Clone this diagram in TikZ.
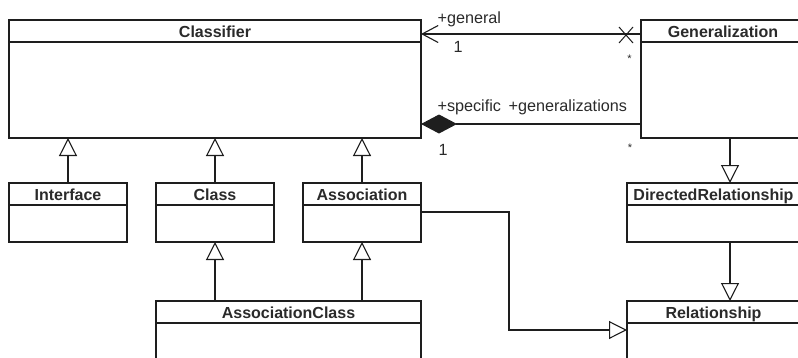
\documentclass[tikz,border=0pt]{standalone}
\usepackage{fontspec}
\setmainfont{Liberation Sans}
\usetikzlibrary{arrows.meta,calc}
\definecolor{ink}{HTML}{1E1E1E}
\definecolor{txt}{HTML}{2A2A2A}

% A UML class box: name, left, top, width, height, title
\newcommand{\umlclass}[6]{%
  \node[classbox, minimum width=#4pt, minimum height=#5pt] (#1) at (#2,#3) {};
  \node[classtitle] (#1-title) at ($(#1.north)+(0,17.5)$) {#6};
  \draw[color=ink] ($(#1.north west)+(0,22)$) -- ($(#1.north east)+(0,22)$);}

\begin{document}
\begin{tikzpicture}[x=1pt,y=-1pt,line width=1.1pt,color=ink,
  classbox/.style={draw=ink, rectangle, anchor=north west, inner sep=0pt, outer sep=0pt},
  classtitle/.style={font=\fontsize{16}{19}\selectfont\bfseries, text=txt, inner sep=0pt, anchor=base},
  role/.style={font=\fontsize{16.2}{19}\selectfont, text=txt, inner sep=0pt, anchor=base west},
  star/.style={font=\fontsize{11}{11}\selectfont, text=txt, inner sep=0pt},
  gen/.style={-{Triangle[open, length=18pt, width=18pt, fill=white]}},
  navig/.style={-{Straight Barb[length=16pt, width=17pt]}},
  compo/.style={-{Diamond[length=36pt, width=19pt]}}]
\useasboundingbox (0,0) rectangle (798,357);
\clip (0,0) rectangle (798,357);

% classes
\umlclass{classifier}{9}{20}{412}{118}{Classifier}
\umlclass{generalization}{641}{20}{164}{118}{Generalization}
\umlclass{interface}{9}{183}{118}{59}{Interface}
\umlclass{class}{156}{183}{118}{59}{Class}
\umlclass{association}{303}{183}{118}{59}{Association}
\umlclass{dirrel}{627}{183}{173}{59}{DirectedRelationship}
\umlclass{assocclass}{156}{301}{265}{80}{AssociationClass}
\umlclass{relationship}{627}{301}{173}{80}{Relationship}

% generalizations
\draw[gen] (interface.north) -- (interface.north |- classifier.south);
\draw[gen] (class.north) -- (class.north |- classifier.south);
\draw[gen] (association.north) -- (association.north |- classifier.south);
\draw[gen] (assocclass.north -| class.south) -- (class.south);
\draw[gen] (assocclass.north -| association.south) -- (association.south);
\coordinate (gx) at ($(generalization.south west)+(89,0)$);
\draw[gen] (gx) -- (gx |- dirrel.north);
\draw[gen] (gx |- dirrel.south) -- (gx |- relationship.north);
\coordinate (aout) at ($(association.north east)+(0,29)$);
\coordinate (rin) at ($(relationship.north west)+(0,29)$);
\draw[gen] (aout) -- ++(88,0) |- (rin);

% association: general
\coordinate (gend) at ($(generalization.north west)+(0,14)$);
\draw[navig] (gend) -- (gend -| classifier.east);
\coordinate (xm) at ($(gend)+(-15,1)$);
\draw[line width=1pt] (xm) +(-7,-8) -- +(7,8) (xm) +(-7,8) -- +(7,-8);
\node[role] (lgeneral) at (437,23) {+general};
\node[role] (lone1) at (453,52) {1};
\node[star] (lstar1) at (629.5,59) {*};

% composition: specific / generalizations
\coordinate (comp) at ($(generalization.north west)+(0,104)$);
\draw[compo] (comp) -- (comp -| classifier.east);
\node[role] (lspecific) at (437,111) {+specific};
\node[role] (lgens) at (508,111) {+generalizations};
\node[role] (lone2) at (438,155) {1};
\node[star] (lstar2) at (630,147.5) {*};
\end{tikzpicture}
\end{document}
